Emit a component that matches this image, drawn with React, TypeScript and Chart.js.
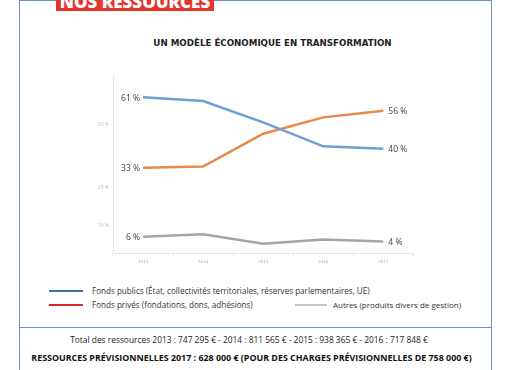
import React, { useEffect, useRef } from "react";
import Chart from "chart.js/auto";

const years = ["2013", "2014", "2015", "2016", "2017"];
const fondsPublics = [61, 59.5, 51, 41.5, 40.5];
const fondsPrives = [33, 33.5, 46.5, 53, 55.6];
const autres = [5.6, 6.6, 2.9, 4.6, 3.8];
const yTicks = [10, 25, 50];
const firstLabels = ["61 %", "33 %", "6 %"];
const lastLabels = ["40 %", "56 %", "4 %"];

const title = "UN MODÈLE ÉCONOMIQUE EN TRANSFORMATION";
const header = "NOS RESSOURCES";
const legendItems = [
  { label: "Fonds publics (État, collectivités territoriales, réserves parlementaires, UE)", color: "#3d6ea8" },
  { label: "Fonds privés (fondations, dons, adhésions)", color: "#d9262b" },
  { label: "Autres (produits divers de gestion)", color: "#c4c4c4" },
];
const totalLine = "Total des ressources 2013 : 747 295 € - 2014 : 811 565 € - 2015 : 938 365 € - 2016 : 717 848 €";
const forecastLine = "RESSOURCES PRÉVISIONNELLES 2017 : 628 000 € (POUR DES CHARGES PRÉVISIONNELLES DE 758 000 €)";

const endLabels = {
  id: "endLabels",
  afterDatasetsDraw(chart: any) {
    const ctx = chart.ctx;
    ctx.save();
    ctx.font = "8.5px 'Open Sans'";
    ctx.fillStyle = "#404040";
    ctx.textBaseline = "middle";
    chart.data.datasets.forEach((ds: any, i: number) => {
      const meta = chart.getDatasetMeta(i);
      const first = meta.data[0];
      const last = meta.data[meta.data.length - 1];
      ctx.textAlign = "right";
      ctx.fillText(firstLabels[i], first.x - 3, first.y + 1);
      ctx.textAlign = "left";
      ctx.fillText(lastLabels[i], last.x + 5, last.y + 1);
    });
    ctx.restore();
  },
};

function LineChart() {
  const ref = useRef<HTMLCanvasElement>(null);
  useEffect(() => {
    if (!ref.current) return;
    const chart = new Chart(ref.current, {
      type: "line",
      data: {
        labels: years,
        datasets: [
          { data: fondsPublics, borderColor: "#6e9fd2", borderWidth: 2.5, pointRadius: 0, tension: 0 },
          { data: fondsPrives, borderColor: "#e8894a", borderWidth: 2.5, pointRadius: 0, tension: 0 },
          { data: autres, borderColor: "#a5a5a5", borderWidth: 2.5, pointRadius: 0, tension: 0 },
        ],
      },
      options: {
        animation: false,
        responsive: false,
        maintainAspectRatio: false,
        layout: { padding: { top: 14.5, right: 26.6, bottom: 0, left: 0 } },
        plugins: { legend: { display: false }, tooltip: { enabled: false } },
        scales: {
          x: {
            offset: true,
            grid: { offset: true, drawOnChartArea: false, color: "#e6e6e6", tickLength: 3 },
            border: { color: "#e3e3e3" },
            ticks: { font: { size: 5, family: "Liberation Serif" }, color: "#a8a8a8", padding: 2 },
            afterFit: (s: any) => { s.height = 21.5; },
          },
          y: {
            min: -1,
            max: 70,
            afterBuildTicks: (s: any) => { s.ticks = yTicks.map((v) => ({ value: v })); },
            grid: { drawOnChartArea: false, color: "#e6e6e6", tickLength: 2 },
            border: { color: "#e8e8e8" },
            ticks: { font: { size: 5, family: "Open Sans" }, color: "#bdbdbd", padding: 2, callback: (v: any) => v + " %" },
            afterFit: (s: any) => { s.width = 53; },
          },
        },
      },
      plugins: [endLabels],
    });
    return () => chart.destroy();
  }, []);
  return <canvas ref={ref} width={380} height={215} style={{ position: "absolute", left: 60, top: 60, width: 380, height: 215 }} />;
}

export default function App() {
  const txt: React.CSSProperties = { position: "absolute", whiteSpace: "nowrap", fontFamily: "'Open Sans', sans-serif", color: "#333" };
  return (
    <div style={{ position: "fixed", left: 0, top: 0, width: 510, height: 370, background: "#fff", overflow: "hidden" }}>
      <div style={{ position: "absolute", left: 19, top: 0, width: 473, height: 328, border: "1.5px solid #6a8fc4", boxSizing: "border-box" }} />
      <div style={{ position: "absolute", left: 19, top: 327, width: 473, height: 60, borderLeft: "1.5px solid #6a8fc4", borderRight: "1.5px solid #6a8fc4", boxSizing: "border-box" }} />
      <div style={{ position: "absolute", left: 56, top: -8, width: 158, height: 19, background: "#e5352b", color: "#fff", fontFamily: "'Open Sans', sans-serif", fontWeight: 800, fontSize: 17, lineHeight: "19px", textAlign: "center", overflow: "hidden" }}>{header}</div>
      <div style={{ ...txt, left: 0, width: 545, top: 36, textAlign: "center", fontFamily: "'DejaVu Sans', sans-serif", fontWeight: 600, fontSize: 8.7, color: "#222", lineHeight: "14px" }}>{title}</div>
      <LineChart />
      <div style={{ position: "absolute", left: 49, top: 290, width: 34, height: 2, background: legendItems[0].color }} />
      <div style={{ ...txt, left: 92, top: 284, fontSize: 8.1, lineHeight: "14px" }}>{legendItems[0].label}</div>
      <div style={{ position: "absolute", left: 49, top: 304, width: 34, height: 2, background: legendItems[1].color }} />
      <div style={{ ...txt, left: 92, top: 298, fontSize: 8.1, lineHeight: "14px" }}>{legendItems[1].label}</div>
      <div style={{ position: "absolute", left: 295, top: 304, width: 32, height: 2, background: legendItems[2].color }} />
      <div style={{ ...txt, left: 333, top: 298, fontSize: 8, lineHeight: "14px" }}>{legendItems[2].label}</div>
      <div style={{ ...txt, left: 0, width: 498, top: 333, textAlign: "center", fontSize: 8.4, lineHeight: "14px", color: "#222" }}>{totalLine}</div>
      <div style={{ ...txt, left: 0, width: 503, top: 351, textAlign: "center", fontSize: 8.9, fontWeight: 700, lineHeight: "14px", color: "#111" }}>{forecastLine}</div>
    </div>
  );
}
